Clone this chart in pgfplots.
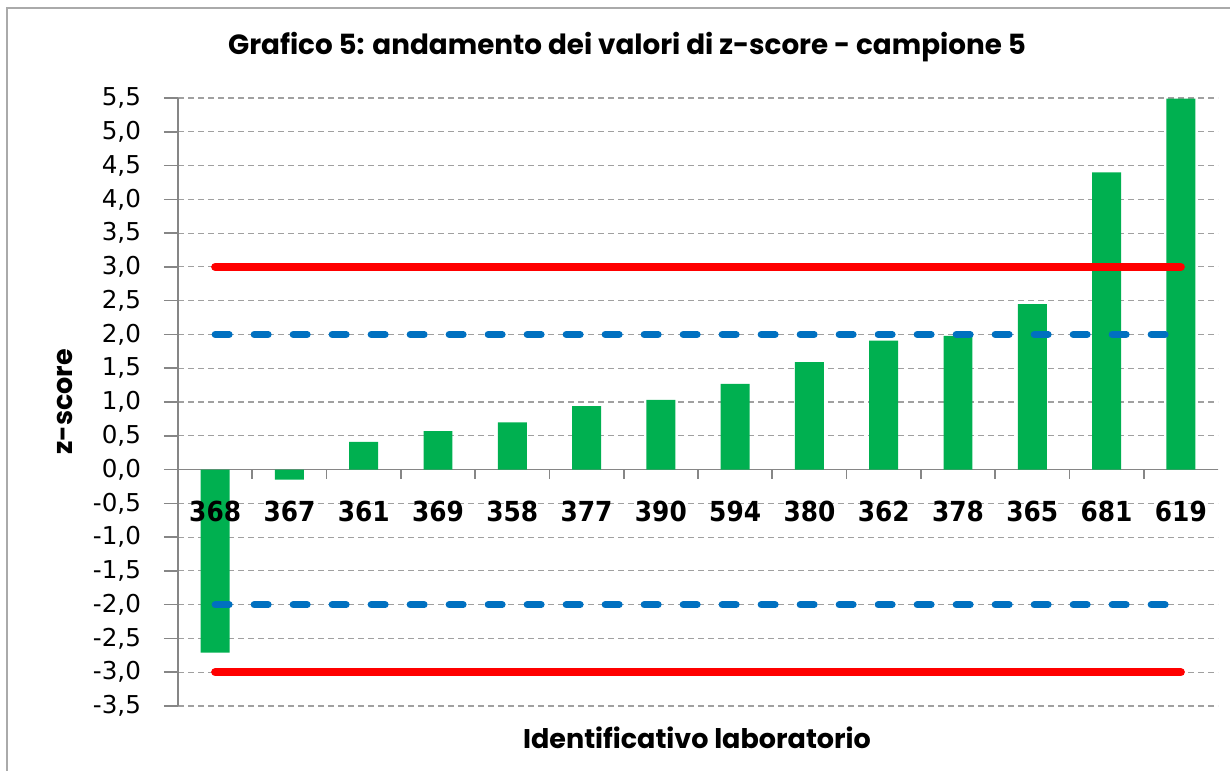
\documentclass[border=0pt]{standalone}
\usepackage{fontspec}
\setmainfont{DejaVu Sans}
\newfontfamily\condfont{DejaVu Sans Condensed}
\newfontfamily\titlefont{Poppins}
\usepackage{pgfplots}
\pgfplotsset{compat=1.18}
\definecolor{barg}{RGB}{0,176,80}
\definecolor{lblue}{RGB}{0,112,192}
\definecolor{gridc}{RGB}{160,160,160}
\definecolor{axc}{RGB}{134,134,134}
\begin{document}
\begin{tikzpicture}
\begin{axis}[
  set layers=standard,
  at={(0,0)}, anchor=south west,
  scale only axis, width=520bp, height=304bp,
  xmin=-0.5, xmax=13.5, ymin=-3.5, ymax=5.5,
  axis x line*=middle, axis y line*=left,
  hide obscured x ticks=false, hide obscured y ticks=false,
  ytick={-3.5,-3,...,5.5},
  xtick={0,...,13},
  xticklabels={368,367,361,369,358,377,390,594,380,362,378,365,681,619},
  minor xtick={0.5,1.5,...,12.5},
  major x tick style={draw=none},
  minor x tick style={draw=axc, line width=0.8bp},
  tick align=outside,
  major tick length=7bp, minor tick length=4.5bp,
  y tick style={draw=axc, line width=0.8bp},
  axis line style={draw=axc, line width=0.8bp},
  ymajorgrids,
  grid style={draw=gridc, dash pattern=on 3bp off 2bp, line width=0.6bp},
  yticklabel style={font=\fontsize{12.3bp}{14bp}\selectfont, xshift=-8bp,
    /pgf/number format/fixed, /pgf/number format/fixed zerofill,
    /pgf/number format/precision=1, /pgf/number format/use comma,
    /pgf/number format/assume math mode=true},
  xticklabel style={/pgfplots/on layer=axis foreground, font=\condfont\bfseries\fontsize{13.8bp}{15bp}\selectfont, anchor=center, yshift=-14bp},
  clip=false,
]
\addplot[ybar, bar width=0.39, fill=barg, draw=none] coordinates {
  (0,-2.71) (1,-0.15) (2,0.41) (3,0.57) (4,0.70) (5,0.94) (6,1.03)
  (7,1.27) (8,1.59) (9,1.91) (10,1.98) (11,2.45) (12,4.40) (13,5.49)};
\addplot[lblue, line width=3.5bp, line cap=round, dash pattern=on 7bp off 12.5bp] coordinates {(0,2) (13,2)};
\addplot[lblue, line width=3.5bp, line cap=round, dash pattern=on 7bp off 12.5bp] coordinates {(0,-2) (13,-2)};
\addplot[red, line width=4bp, line cap=round] coordinates {(0,3) (13,3)};
\addplot[red, line width=4bp, line cap=round] coordinates {(0,-3) (13,-3)};
\end{axis}
\path[use as bounding box] (-89bp,-32.5bp) rectangle (526bp,353bp);
\draw[axc!70, line width=1bp] (-85.5bp,-40bp) -- (-85.5bp,349bp) -- (540bp,349bp);
\node[font=\titlefont\bfseries\fontsize{13.9bp}{16bp}\selectfont] at (224.5bp,329.5bp) {Grafico 5: andamento dei valori di z-score - campione 5};
\node[font=\titlefont\bfseries\fontsize{13.5bp}{16bp}\selectfont] at (259.5bp,-16bp) {Identificativo laboratorio};
\node[font=\titlefont\bfseries\fontsize{13.5bp}{16bp}\selectfont, rotate=90] at (-56.5bp,152bp) {z-score};
\end{tikzpicture}
\end{document}
